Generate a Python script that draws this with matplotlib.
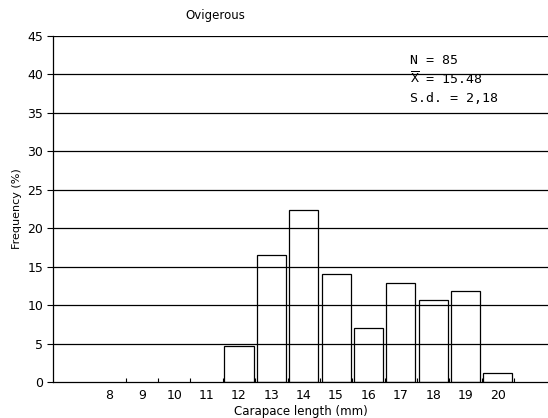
import numpy as np
import matplotlib
matplotlib.use("Agg")
from matplotlib import pyplot as plt

# size classes (mm) and frequency (%)
lengths = [12, 13, 14, 15, 16, 17, 18, 19, 20]
freq = [4.7, 16.5, 22.4, 14.1, 7.0, 12.9, 10.6, 11.8, 1.2]
tick_labels = [8, 9, 10, 11, 12, 13, 14, 15, 16, 17, 18, 19, 20]
y_ticks = [0, 5, 10, 15, 20, 25, 30, 35, 40, 45]

plt.rcParams['font.family'] = ['DejaVu Sans']
plt.rcParams['mathtext.fontset'] = 'dejavusans'

fig = plt.figure(figsize=(5.48, 4.18), dpi=100)
ax = fig.add_axes([53 / 548, 1 - 382 / 418, 1 - 53 / 548, (382 - 36) / 418])

# grid lines
for y in y_ticks[1:]:
    ax.axhline(y, color='black', lw=0.9, zorder=1)

ax.bar(lengths, freq, width=0.9, facecolor='none', edgecolor='black', lw=0.9, zorder=2)

ax.set_xlim(6.25, 21.55)
ax.set_ylim(0, 45)

ax.set_xticks(tick_labels)
ax.set_xticklabels([str(t) for t in tick_labels], fontsize=9)
ax.tick_params(axis='x', which='major', length=0, pad=5)
ax.set_xticks(np.arange(8.5, 20.6, 1.0), minor=True)
ax.tick_params(axis='x', which='minor', length=3, direction='in', width=0.8)

ax.set_yticks(y_ticks)
ax.set_yticklabels([str(t) for t in y_ticks], fontsize=9)
ax.tick_params(axis='y', length=4, direction='out', width=0.8, pad=3)

for s in ['top', 'right']:
    ax.spines[s].set_visible(False)
ax.spines['left'].set_linewidth(0.9)
ax.spines['bottom'].set_linewidth(0.9)

ax.set_xlabel('Carapace length (mm)', fontsize=8.5, labelpad=2)
ax.set_ylabel('Frequency (%)', fontsize=8, labelpad=4)

fig.text(215 / 548, 1 - 16 / 418, 'Ovigerous', ha='center', va='center', fontsize=8.5)

stats = ['N = 85', r'$\overline{\mathtt{X}}$ = 15.48', 'S.d. = 2,18']
for i, s in enumerate(stats):
    fig.text(410 / 548, 1 - (60 + i * 19) / 418, s, ha='left', va='center',
             fontsize=9.5, family='DejaVu Sans Mono')

fig.savefig('out.png', dpi=100)
